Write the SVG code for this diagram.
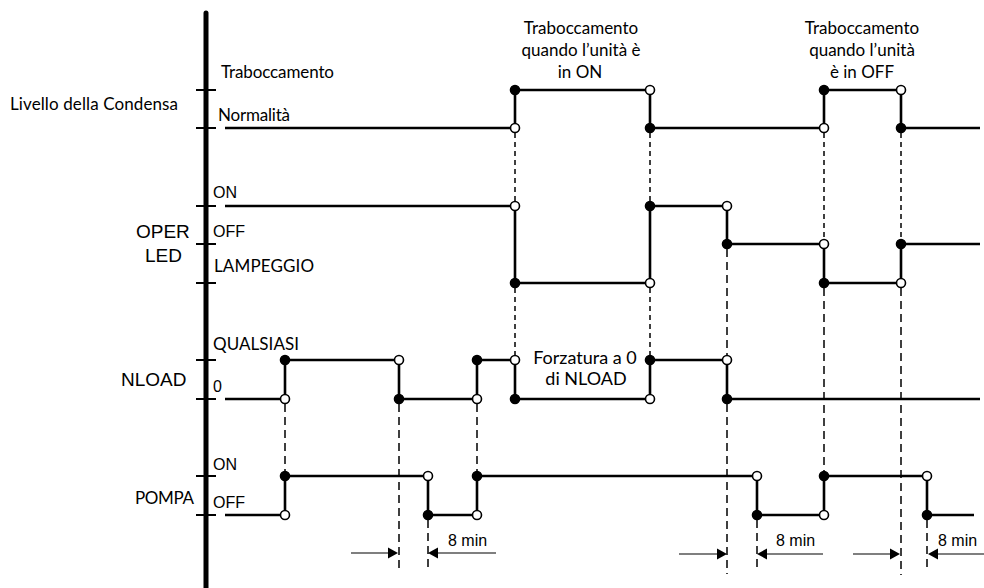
<svg xmlns="http://www.w3.org/2000/svg" width="984" height="588" viewBox="0 0 984 588">
<style>
.sig{fill:none;stroke:#000;stroke-width:2.6;stroke-linejoin:miter}
.tick{stroke:#000;stroke-width:2}
.ds{stroke:#000;stroke-width:1.5;stroke-dasharray:5,4;fill:none}
.dl{stroke:#000;stroke-width:1.5;stroke-dasharray:8,5;fill:none}
.o{fill:#fff;stroke:#000;stroke-width:1.6}
.f{fill:#000;stroke:#000;stroke-width:1.6}
.arr{stroke:#000;stroke-width:1.2;fill:none}
.hum{font-family:Lato,"Open Sans","DejaVu Sans",sans-serif;fill:#000}
.ari{font-family:"Liberation Sans",Arial,sans-serif;fill:#000}
</style>
<defs>
<circle id="co" r="4.5" class="o"/>
<circle id="cf" r="4.5" class="f"/>
<path id="ahR" d="M0,0 L-10,-5.5 L-10,5.5 Z" fill="#000"/>
<path id="ahL" d="M0,0 L10,-5.5 L10,5.5 Z" fill="#000"/>
</defs>
<rect width="984" height="588" fill="#fff"/>

<g id="axis">
<line x1="206" y1="13" x2="206" y2="588" stroke="#000" stroke-width="5" stroke-linecap="round"/>
<line class="tick" x1="196" y1="90" x2="216" y2="90"/>
<line class="tick" x1="196" y1="128" x2="216" y2="128"/>
<line class="tick" x1="196" y1="206" x2="216" y2="206"/>
<line class="tick" x1="196" y1="244" x2="216" y2="244"/>
<line class="tick" x1="196" y1="283" x2="216" y2="283"/>
<line class="tick" x1="196" y1="360" x2="216" y2="360"/>
<line class="tick" x1="196" y1="399" x2="216" y2="399"/>
<line class="tick" x1="196" y1="476" x2="216" y2="476"/>
<line class="tick" x1="196" y1="515" x2="216" y2="515"/>
</g>

<g id="labels">
<text class="hum" x="10" y="110" font-size="17" textLength="168">Livello della Condensa</text>
<text class="hum" x="221" y="78" font-size="17" textLength="113">Traboccamento</text>
<text class="hum" x="218" y="121" font-size="17" textLength="72">Normalità</text>
<text class="ari" x="136" y="238" font-size="19">OPER</text>
<text class="ari" x="145" y="262" font-size="19">LED</text>
<text class="ari" x="213" y="198" font-size="16">ON</text>
<text class="ari" x="213" y="237" font-size="16">OFF</text>
<text class="hum" x="214" y="272" font-size="17" textLength="100">LAMPEGGIO</text>
<text class="hum" x="213" y="350" font-size="17" textLength="86">QUALSIASI</text>
<text class="ari" x="121" y="386" font-size="19">NLOAD</text>
<text class="ari" x="213" y="392" font-size="16">0</text>
<text class="ari" x="213" y="470" font-size="16">ON</text>
<text class="hum" x="135" y="504" font-size="17" textLength="59">POMPA</text>
<text class="ari" x="213" y="508" font-size="16">OFF</text>
</g>

<g id="note-on" class="hum" font-size="17" text-anchor="middle">
<text x="581" y="34">Traboccamento</text>
<text x="581" y="56">quando l’unità è</text>
<text x="580" y="78">in ON</text>
</g>
<g id="note-off" class="hum" font-size="17" text-anchor="middle">
<text x="862" y="34">Traboccamento</text>
<text x="862" y="56">quando l’unità</text>
<text x="862" y="78">è in OFF</text>
</g>
<g id="note-forz" class="hum" font-size="18" text-anchor="middle">
<text x="585" y="364">Forzatura a 0</text>
<text x="586" y="385">di NLOAD</text>
</g>

<g id="connectors">
<line class="ds" x1="515" y1="133" x2="515" y2="202"/>
<line class="ds" x1="650" y1="133" x2="650" y2="202"/>
<line class="ds" x1="515" y1="288" x2="515" y2="356"/>
<line class="ds" x1="650" y1="288" x2="650" y2="356"/>
<line class="ds" x1="824" y1="133" x2="824" y2="240"/>
<line class="ds" x1="901" y1="133" x2="901" y2="240"/>
<line class="dl" x1="727" y1="249" x2="727" y2="356"/>
<line class="dl" x1="824" y1="288" x2="824" y2="472"/>
<line class="dl" x1="901" y1="288" x2="901" y2="575"/>
<line class="dl" x1="727" y1="404" x2="727" y2="574"/>
<line class="dl" x1="285" y1="404" x2="285" y2="472"/>
<line class="dl" x1="399" y1="404" x2="399" y2="570"/>
<line class="dl" x1="477" y1="404" x2="477" y2="472"/>
<line class="dl" x1="428" y1="520" x2="428" y2="567"/>
<line class="dl" x1="757" y1="520" x2="757" y2="567"/>
<line class="dl" x1="927" y1="520" x2="927" y2="567"/>

<line class="arr" x1="351" y1="553" x2="390" y2="553"/>
<use href="#ahR" x="398" y="553"/>
<line class="arr" x1="436" y1="553" x2="496" y2="553"/>
<use href="#ahL" x="428" y="553"/>
<line class="arr" x1="679" y1="554" x2="719" y2="554"/>
<use href="#ahR" x="727" y="554"/>
<line class="arr" x1="765" y1="554" x2="823" y2="554"/>
<use href="#ahL" x="757" y="554"/>
<line class="arr" x1="853" y1="554" x2="892" y2="554"/>
<use href="#ahR" x="900" y="554"/>
<line class="arr" x1="936" y1="554" x2="984" y2="554"/>
<use href="#ahL" x="928" y="554"/>
<text class="ari" x="448" y="546" font-size="16">8 min</text>
<text class="ari" x="776" y="546" font-size="16">8 min</text>
<text class="ari" x="938" y="546" font-size="16">8 min</text>
</g>

<g id="sig-livello">
<polyline class="sig" points="225,128 515,128 515,90 650,90 650,128 824,128 824,90 901,90 901,128 980,128"/>
<use href="#co" x="515" y="128"/><use href="#cf" x="515" y="90"/>
<use href="#co" x="650" y="90"/><use href="#cf" x="650" y="128"/>
<use href="#co" x="824" y="128"/><use href="#cf" x="824" y="90"/>
<use href="#co" x="901" y="90"/><use href="#cf" x="901" y="128"/>
</g>

<g id="sig-operled">
<polyline class="sig" points="225,206 515,206 515,283 650,283 650,206 727,206 727,244 824,244 824,283 901,283 901,244 980,244"/>
<use href="#co" x="515" y="206"/><use href="#cf" x="515" y="283"/>
<use href="#co" x="650" y="283"/><use href="#cf" x="650" y="206"/>
<use href="#co" x="727" y="206"/><use href="#cf" x="727" y="244"/>
<use href="#co" x="824" y="244"/><use href="#cf" x="824" y="283"/>
<use href="#co" x="901" y="283"/><use href="#cf" x="901" y="244"/>
</g>

<g id="sig-nload">
<polyline class="sig" points="225,399 285,399 285,360 399,360 399,399 477,399 477,360 515,360 515,399 650,399 650,360 727,360 727,399 980,399"/>
<use href="#co" x="285" y="399"/><use href="#cf" x="285" y="360"/>
<use href="#co" x="399" y="360"/><use href="#cf" x="399" y="399"/>
<use href="#co" x="477" y="399"/><use href="#cf" x="477" y="360"/>
<use href="#co" x="515" y="360"/><use href="#cf" x="515" y="399"/>
<use href="#co" x="650" y="399"/><use href="#cf" x="650" y="360"/>
<use href="#co" x="727" y="360"/><use href="#cf" x="727" y="399"/>
</g>

<g id="sig-pompa">
<polyline class="sig" points="225,515 285,515 285,476 428,476 428,515 477,515 477,476 757,476 757,515 824,515 824,476 927,476 927,515 974,515"/>
<use href="#co" x="285" y="515"/><use href="#cf" x="285" y="476"/>
<use href="#co" x="428" y="476"/><use href="#cf" x="428" y="515"/>
<use href="#co" x="477" y="515"/><use href="#cf" x="477" y="476"/>
<use href="#co" x="757" y="476"/><use href="#cf" x="757" y="515"/>
<use href="#co" x="824" y="515"/><use href="#cf" x="824" y="476"/>
<use href="#co" x="927" y="476"/><use href="#cf" x="927" y="515"/>
</g>
</svg>
